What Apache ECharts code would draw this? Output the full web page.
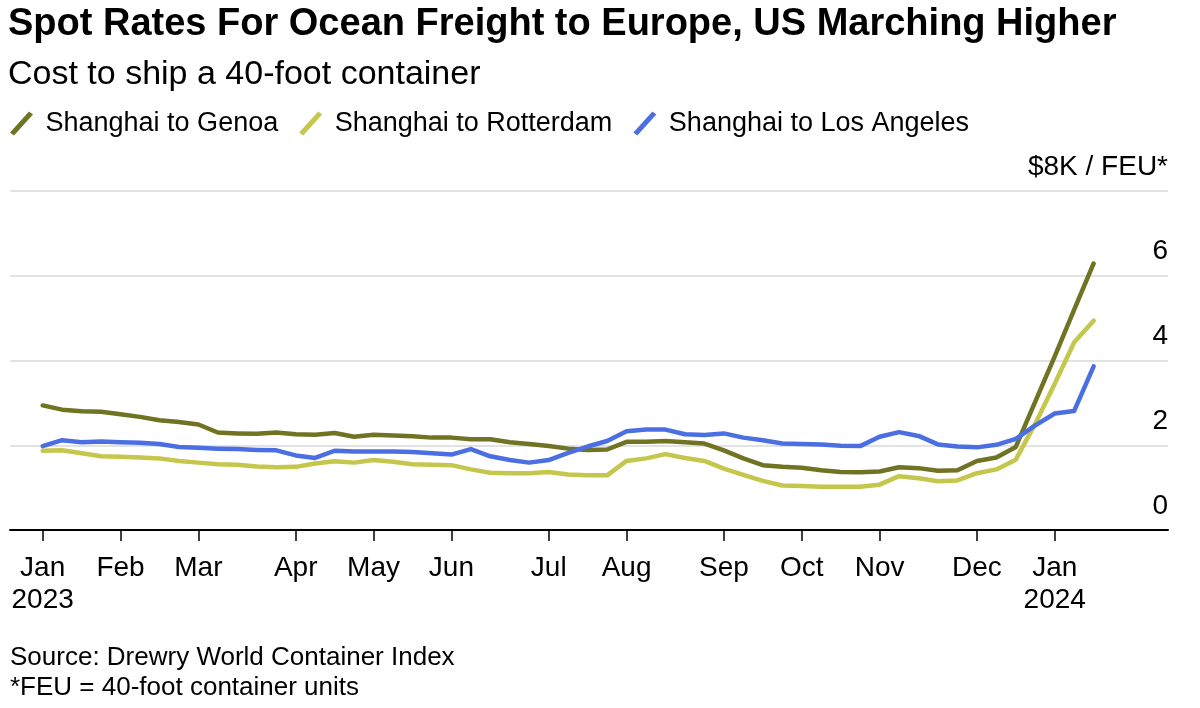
<!DOCTYPE html>
<html>
<head>
<meta charset="utf-8">
<script src="https://cdn.jsdelivr.net/npm/echarts@6/dist/echarts.min.js"></script>
<style>
html,body{margin:0;padding:0;background:#fff;}
#chart{width:1200px;height:708px;}
</style>
</head>
<body>
<div id="chart"></div>
<script>
// Weekly observation dates (Drewry WCI, Thursdays)
const weeks = [
  '2023-01-05','2023-01-12','2023-01-19','2023-01-26','2023-02-02','2023-02-09','2023-02-16','2023-02-23',
  '2023-03-02','2023-03-09','2023-03-16','2023-03-23','2023-03-30','2023-04-06','2023-04-13','2023-04-20',
  '2023-04-27','2023-05-04','2023-05-11','2023-05-18','2023-05-25','2023-06-01','2023-06-08','2023-06-15',
  '2023-06-22','2023-06-29','2023-07-06','2023-07-13','2023-07-20','2023-07-27','2023-08-03','2023-08-10',
  '2023-08-17','2023-08-24','2023-08-31','2023-09-07','2023-09-14','2023-09-21','2023-09-28','2023-10-05',
  '2023-10-12','2023-10-19','2023-10-26','2023-11-02','2023-11-09','2023-11-16','2023-11-23','2023-11-30',
  '2023-12-07','2023-12-14','2023-12-21','2023-12-28','2024-01-04','2024-01-11','2024-01-18'
];

// Spot rates, $K per FEU
const genoa = [
  2.94,2.84,2.80,2.79,2.73,2.67,2.59,2.55,2.49,2.30,2.28,2.27,2.30,2.26,2.25,2.29,
  2.20,2.25,2.23,2.21,2.18,2.18,2.14,2.14,2.07,2.03,1.98,1.92,1.89,1.90,2.08,2.08,
  2.10,2.07,2.04,1.88,1.69,1.53,1.49,1.47,1.41,1.37,1.36,1.38,1.48,1.46,1.40,1.41,
  1.63,1.71,1.96,3.03,4.10,5.20,6.29
];
const rotterdam = [
  1.87,1.88,1.81,1.74,1.73,1.71,1.69,1.63,1.59,1.55,1.54,1.50,1.48,1.49,1.57,1.62,
  1.59,1.65,1.61,1.55,1.54,1.53,1.43,1.35,1.34,1.34,1.37,1.31,1.29,1.29,1.63,1.69,
  1.79,1.70,1.63,1.45,1.30,1.16,1.05,1.04,1.02,1.02,1.02,1.07,1.27,1.22,1.15,1.17,
  1.34,1.43,1.66,2.51,3.45,4.43,4.94
];
const losAngeles = [
  1.98,2.12,2.07,2.09,2.07,2.06,2.03,1.96,1.94,1.92,1.91,1.89,1.88,1.76,1.70,1.87,
  1.85,1.85,1.85,1.84,1.81,1.78,1.91,1.74,1.65,1.59,1.65,1.82,1.97,2.10,2.33,2.37,
  2.37,2.26,2.24,2.28,2.18,2.12,2.04,2.03,2.02,1.99,1.98,2.20,2.31,2.22,2.02,1.97,
  1.95,2.01,2.15,2.47,2.75,2.81,3.86
];

// Month ticks (first weekly observation of each month) and their labels
const tickWeeks = ['2023-01-05','2023-02-02','2023-03-02','2023-04-06','2023-05-04','2023-06-01',
  '2023-07-06','2023-08-03','2023-09-07','2023-10-05','2023-11-02','2023-12-07','2024-01-04'];
const tickLabels = ['Jan\n2023','Feb','Mar','Apr','May','Jun','Jul','Aug','Sep','Oct','Nov','Dec','Jan\n2024'];

const seriesNames = ['Shanghai to Genoa','Shanghai to Rotterdam','Shanghai to Los Angeles'];
const seriesColors = ['#6f7322','#c5c64c','#4b6fe2'];

const FONT = '"Liberation Sans", Arial, Helvetica, sans-serif';
const tickIdx = tickWeeks.map(d => weeks.indexOf(d));
const labelByIdx = {};
tickIdx.forEach((ix, k) => { labelByIdx[ix] = tickLabels[k]; });
const toPairs = arr => arr.map((v, i) => [i, v]);

const slash = 'path://M0,21 L19,0 L23,3 L4,24 Z';

const chart = echarts.init(document.getElementById('chart'), null, {renderer: 'canvas'});
chart.setOption({
  backgroundColor: '#ffffff',
  animation: false,
  textStyle: {fontFamily: FONT},
  title: [{
    left: 8, top: 4, padding: 0, itemGap: 9,
    text: 'Spot Rates For Ocean Freight to Europe, US Marching Higher',
    textStyle: {fontFamily: FONT, fontSize: 38, fontWeight: 'bold', color: '#000', lineHeight: 42},
    subtext: 'Cost to ship a 40-foot container',
    subtextStyle: {fontFamily: FONT, fontSize: 34, color: '#000', lineHeight: 40}
  }, {
    left: 10, top: 643, padding: 0,
    text: 'Source: Drewry World Container Index\n*FEU = 40-foot container units',
    textStyle: {fontFamily: FONT, fontSize: 26, fontWeight: 'normal', color: '#000', lineHeight: 30}
  }],
  legend: {
    left: 10, top: 110, padding: 0, itemGap: 21,
    itemWidth: 24, itemHeight: 24,
    data: seriesNames.map((n, k) => ({name: n, icon: slash, itemStyle: {color: seriesColors[k]}})),
    textStyle: {fontFamily: FONT, fontSize: 27, color: '#000', padding: [0, 0, 0, 7]}
  },
  grid: {left: 10, right: 32, top: 191, bottom: 178, containLabel: false},
  xAxis: {
    type: 'value', min: -1.68, max: 57.82,
    splitLine: {show: false},
    axisLine: {show: true, lineStyle: {color: '#000', width: 2}},
    axisTick: {show: true, customValues: tickIdx, length: 11, lineStyle: {color: '#000', width: 1.5}},
    axisLabel: {
      show: true, customValues: tickIdx, margin: 22,
      fontFamily: FONT, fontSize: 28, lineHeight: 32, color: '#000', align: 'center',
      formatter: v => labelByIdx[Math.round(v)] || ''
    }
  },
  yAxis: {
    type: 'value', position: 'right', min: 0, max: 8, interval: 2,
    axisLine: {show: false}, axisTick: {show: false},
    splitLine: {show: true, lineStyle: {color: '#d9d9d9', width: 1.5}},
    axisLabel: {
      inside: true, margin: 0, fontFamily: FONT, fontSize: 28, color: '#000',
      verticalAlign: 'bottom', lineHeight: 28, padding: [0, 0, 10, 0],
      formatter: v => v === 8 ? '$8K / FEU*' : String(v)
    }
  },
  series: [genoa, rotterdam, losAngeles].map((arr, k) => ({
    name: seriesNames[k], type: 'line', data: toPairs(arr),
    showSymbol: false, symbol: 'none',
    lineStyle: {color: seriesColors[k], width: 4.5, join: 'round', cap: 'round'},
    itemStyle: {color: seriesColors[k]},
    emphasis: {disabled: true}
  }))
});
</script>
</body>
</html>
